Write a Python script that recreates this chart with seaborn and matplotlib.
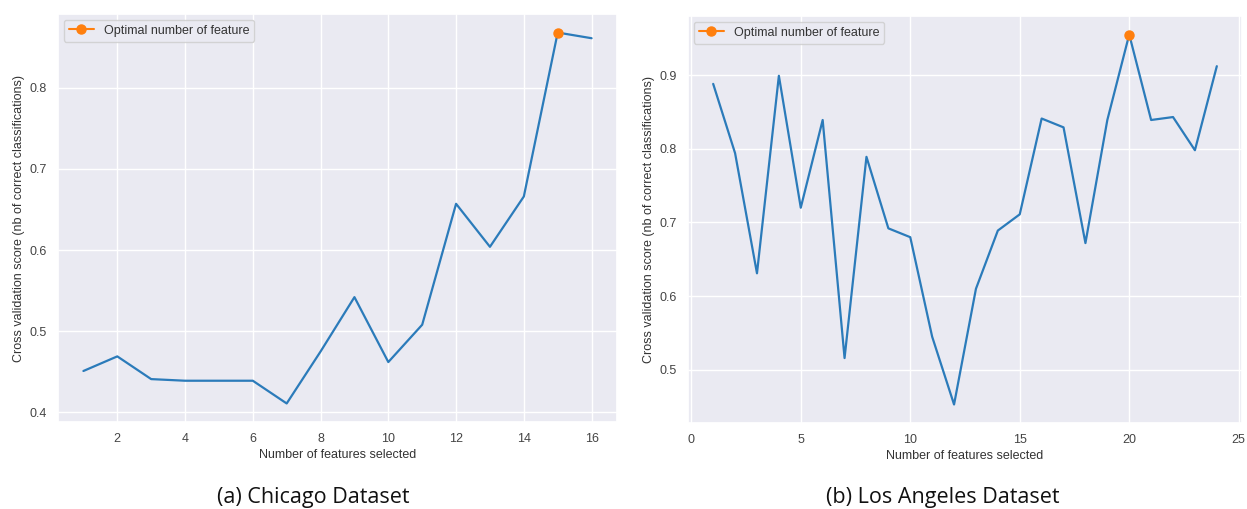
import pandas as pd
import matplotlib
matplotlib.use('Agg')
import matplotlib.pyplot as plt
import seaborn as sns

# Chicago RFECV scores
chicago_n = list(range(1, 17))
chicago_score = [0.451, 0.469, 0.441, 0.439, 0.439, 0.439, 0.411, 0.475,
                 0.542, 0.462, 0.508, 0.657, 0.604, 0.666, 0.868, 0.861]
chicago_best = 15

# Los Angeles RFECV scores
la_n = list(range(1, 25))
la_score = [0.888, 0.794, 0.631, 0.899, 0.720, 0.839, 0.516, 0.789,
            0.692, 0.680, 0.545, 0.453, 0.610, 0.689, 0.711, 0.841,
            0.829, 0.672, 0.839, 0.955, 0.839, 0.843, 0.798, 0.912]
la_best = 20

captions = ["(a) Chicago Dataset", "(b) Los Angeles Dataset"]

sns.set_theme(style="darkgrid")
plt.rcParams['font.family'] = ['Liberation Sans', 'DejaVu Sans']

W, H = 1247, 509
fig = plt.figure(figsize=(W / 100, H / 100), dpi=100)
ax1 = fig.add_axes([58 / W, (H - 422) / H, (617 - 58) / W, (422 - 14) / H])
ax2 = fig.add_axes([688 / W, (H - 423) / H, (1242 - 688) / W, (423 - 16) / H])

panels = [(ax1, chicago_n, chicago_score, chicago_best),
          (ax2, la_n, la_score, la_best)]

for ax, xs, ys, best in panels:
    df = pd.DataFrame({"n": xs, "score": ys})
    sns.lineplot(data=df, x="n", y="score", ax=ax, color="#2b7bba", linewidth=1.6)
    top = df[df["n"] == best]
    ax.plot(top["n"], top["score"], marker="o", color="#ff7f0e", markersize=6.5,
            label="Optimal number of feature")
    ax.set_xlabel("Number of features selected", fontsize=9, color="#333333", labelpad=3)
    ax.set_ylabel("Cross validation score (nb of correct classifications)",
                  fontsize=9, color="#333333", labelpad=3)
    ax.tick_params(axis="x", labelsize=9, colors="#444444", length=0, pad=8)
    ax.tick_params(axis="y", labelsize=9, colors="#444444", length=0, pad=8)
    leg = ax.legend(loc="upper left", fontsize=9, frameon=True, borderpad=0.4,
                    borderaxespad=0.45, handlelength=2.0)
    for t in leg.get_texts():
        t.set_color("#333333")

ax2.set_xticks([0, 5, 10, 15, 20, 25])

for xc, cap in zip([313, 943], captions):
    fig.text(xc / W, 1 - 497 / H, cap, ha="center", va="center",
             fontsize=15.5, family=["Open Sans", "DejaVu Sans"], color="#111111")

fig.savefig("out.png", dpi=100, facecolor="white")
